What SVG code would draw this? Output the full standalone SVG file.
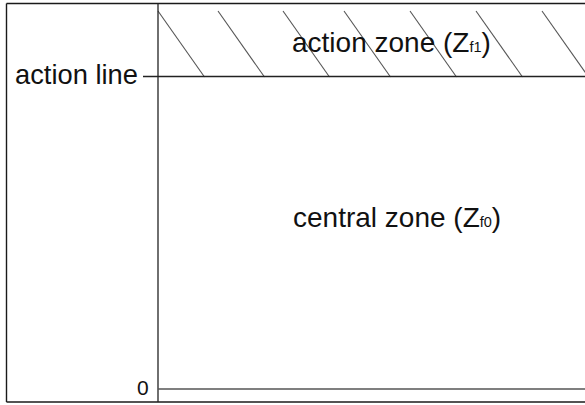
<svg xmlns="http://www.w3.org/2000/svg" width="585" height="405" viewBox="0 0 585 405">
<style>
.frame{stroke:#1a1a1a;stroke-width:1.4;fill:none}
.axis{stroke:#222;stroke-width:1.3;fill:none}
.hatch{stroke:#555;stroke-width:1.1;fill:none}
.gl{stroke:#555;stroke-width:1.4;fill:none}
text{font-family:"Liberation Sans",Arial,sans-serif;fill:#111}
.big{font-size:28px}
.sub{font-size:14.5px}
</style>
<rect width="585" height="405" fill="#fff"/>
<g id="frame">
<line class="frame" x1="6.5" y1="3.5" x2="585" y2="3.5"/>
<line class="frame" x1="6.5" y1="3.5" x2="6.5" y2="402"/>
<line class="frame" x1="6.5" y1="402" x2="585" y2="402"/>
</g>
<g id="hatching">
<line class="hatch" x1="158" y1="11" x2="204.5" y2="77"/>
<line class="hatch" x1="218" y1="11" x2="264.5" y2="77"/>
<line class="hatch" x1="283" y1="11" x2="329.5" y2="77"/>
<line class="hatch" x1="344" y1="11" x2="390.5" y2="77"/>
<line class="hatch" x1="410" y1="11" x2="456.5" y2="77"/>
<line class="hatch" x1="476" y1="11" x2="522.5" y2="77"/>
<line class="hatch" x1="542" y1="11" x2="588.5" y2="77"/>
</g>
<g id="connectors">
<line class="axis" x1="158" y1="3.5" x2="158" y2="402"/>
<line class="axis" x1="143" y1="76.5" x2="585" y2="76.5"/>
<line class="gl" x1="158" y1="389" x2="585" y2="389"/>
</g>
<g id="action-line-label">
<text x="15" y="84" style="font-size:27.3px">action line</text>
</g>
<g id="action-zone">
<text x="292" y="52" class="big">action zone (Z<tspan class="sub">f1</tspan>)</text>
</g>
<g id="central-zone">
<text x="293" y="227" class="big">central zone (Z<tspan class="sub">f0</tspan>)</text>
</g>
<g id="zero-label">
<text x="137" y="395" style="font-size:21px">0</text>
</g>
</svg>
